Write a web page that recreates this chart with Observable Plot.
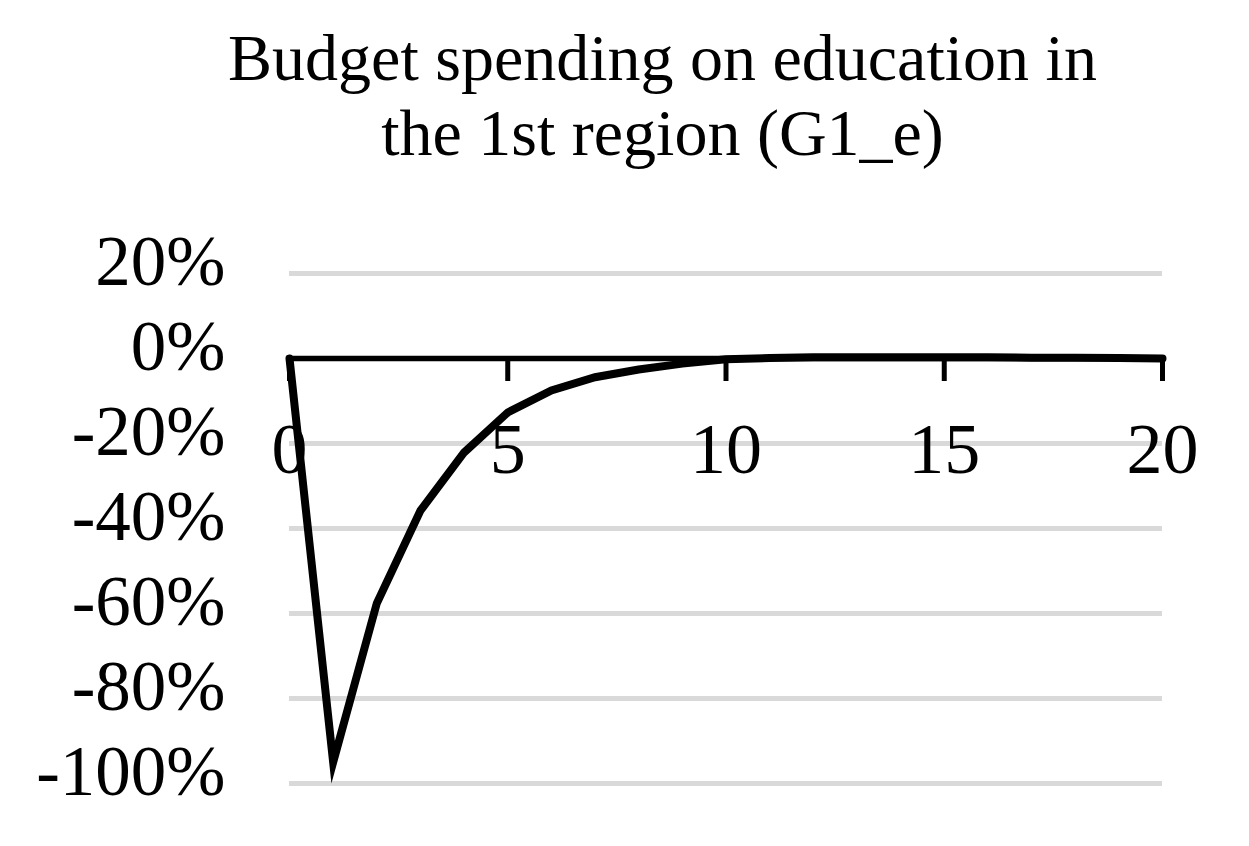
<!DOCTYPE html>
<html>
<head>
<meta charset="utf-8">
<script src="https://cdn.jsdelivr.net/npm/d3@7"></script>
<script src="https://cdn.jsdelivr.net/npm/@observablehq/plot@0.6"></script>
<style>
  html, body { margin: 0; padding: 0; background: #fff; overflow: hidden; }
  #title {
    box-sizing: border-box;
    width: 1249px; height: 190px;
    padding-top: 20px; padding-left: 76px;
    font-family: "Liberation Serif", "Times New Roman", serif;
    font-size: 66px; line-height: 75px;
    text-align: center; color: #000;
  }
  svg { display: block; }
</style>
</head>
<body>
<div id="title">Budget spending on education in<br>the 1st region (G1_e)</div>
<div id="chart"></div>
<script>
const periods = [0, 1, 2, 3, 4, 5, 6, 7, 8, 9, 10, 11, 12, 13, 14, 15, 16, 17, 18, 19, 20];
const values = [0, -0.95, -0.576, -0.358, -0.221, -0.127, -0.075, -0.044, -0.026, -0.012, -0.002,
                0.001, 0.003, 0.003, 0.003, 0.003, 0.003, 0.002, 0.002, 0.001, 0.0];
const yTicks = [0.2, 0, -0.2, -0.4, -0.6, -0.8, -1.0];
const xTicks = [0, 5, 10, 15, 20];

const data = periods.map((p, i) => ({period: p, value: values[i]}));

const chart = Plot.plot({
  width: 1249,
  height: 656,
  marginTop: 83,
  marginBottom: 63,
  marginLeft: 289,
  marginRight: 87,
  style: {fontFamily: "'Liberation Serif', 'Times New Roman', serif", color: "#000", background: "#fff"},
  x: {domain: [0, 20], axis: null},
  y: {domain: [-1, 0.2], axis: null},
  marks: [
    Plot.ruleY(yTicks.filter(d => d !== 0), {stroke: "#d9d9d9", strokeWidth: 5}),
    Plot.axisY(yTicks, {
      label: null, tickSize: 0, tickPadding: 64, fontSize: 71, dy: -11,
      tickFormat: d => Math.round(d * 100) + "%", fill: "#000"
    }),
    Plot.ruleY([0], {stroke: "#000", strokeWidth: 5.5}),
    Plot.ruleX(xTicks, {x: d => d, y1: 0, y2: 0, insetBottom: -23, stroke: "#000", strokeWidth: 5}),
    Plot.text(xTicks, {x: d => d, y: 0, text: d => String(d), lineAnchor: "top", dy: 63, fontSize: 72, fill: "#000"}),
    Plot.line(data, {x: "period", y: "value", stroke: "#000", strokeWidth: 8, strokeLinejoin: "miter", strokeMiterlimit: 20})
  ]
});
document.getElementById("chart").appendChild(chart);
</script>
</body>
</html>
